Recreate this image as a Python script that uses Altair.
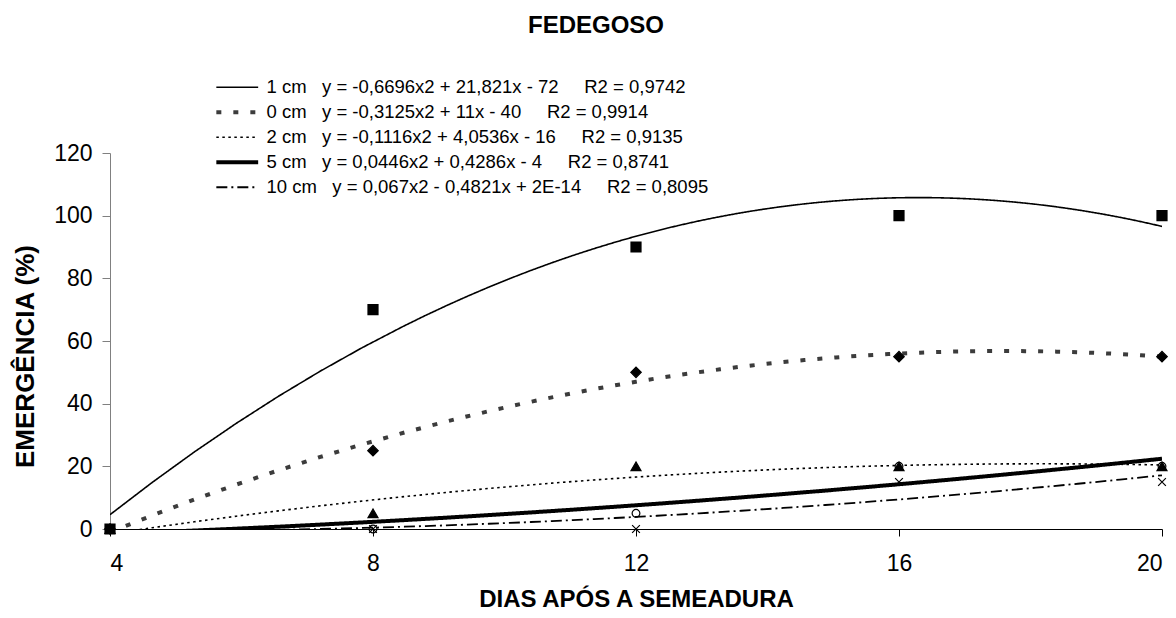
import altair as alt
import pandas as pd

# ---- data ----
dias = [4, 8, 12, 16, 20]
series = ["1 cm", "0 cm", "2 cm", "5 cm", "10 cm"]
emerg_1cm = [0, 70, 90, 100, 100]
emerg_0cm = [0, 25, 50, 55, 55]
emerg_2cm = [0, 5, 20, 20, 20]
emerg_5cm = [0, 0, 5, 20, 20]
emerg_10cm = [0, 0, 0, 15, 15]
equations = [
    "y = -0,6696x2 + 21,821x - 72",
    "y = -0,3125x2 + 11x - 40",
    "y = -0,1116x2 + 4,0536x - 16",
    "y = 0,0446x2 + 0,4286x - 4",
    "y = 0,067x2 - 0,4821x + 2E-14",
]
r2 = ["R2 = 0,9742", "R2 = 0,9914", "R2 = 0,9135", "R2 = 0,8741", "R2 = 0,8095"]

NB = "\u00a0"
labels = [f"{s}{NB*3}{e}{NB*5}{r}" for s, e, r in zip(series, equations, r2)]
values = [emerg_1cm, emerg_0cm, emerg_2cm, emerg_5cm, emerg_10cm]

rows = []
for lab, s, vals in zip(labels, series, values):
    for d, v in zip(dias, vals):
        rows.append({"dias": d, "emerg": v, "serie": lab, "marcador": s})
df = pd.DataFrame(rows)

# ---- styles ----
line_colors = ["#000000", "#3c3c3c", "#000000", "#000000", "#000000"]
line_dash = [[1, 0], [5, 12], [2.5, 3.5], [1, 0], [11, 4, 2, 4]]
line_width = [1.6, 4, 1.6, 4, 1.8]
shapes = ["square", "diamond", "triangle-up", "circle", "M-1,-1L1,1M-1,1L1,-1"]
fills = ["#000000", "#000000", "#000000", "transparent", "transparent"]
sizes = [100, 110, 100, 60, 60]

FONT = "Liberation Sans"

xscale = alt.Scale(domain=[4, 20], nice=False, zero=False)
yscale = alt.Scale(domain=[0, 120], nice=False)

xaxis = alt.Axis(
    values=dias, format="d", title="DIAS APÓS A SEMEADURA", grid=False,
    domainColor="#000000", tickColor="#000000", tickSize=7,
    labelFontSize=23, labelPadding=16, labelColor="#000000",
    titleFontSize=24, titleFontWeight="bold", titlePadding=12, titleColor="#000000",
)
yaxis = alt.Axis(
    values=[0, 20, 40, 60, 80, 100, 120], format="d", title="EMERGÊNCIA (%)", grid=False,
    domainColor="#808080", tickColor="#808080", tickSize=8,
    labelFontSize=23, labelPadding=10, labelColor="#000000",
    titleFontSize=26, titleFontWeight="bold", titleColor="#000000",
    titleX=-85, titleY=203, titleBaseline="middle",
)

leg = alt.Legend(
    orient="none", legendX=118, legendY=-75, title=None,
    symbolType="M-5,0H5", symbolSize=70, labelOffset=20,
    labelFontSize=18.5, labelColor="#000000", rowPadding=6, padding=0,
    labelLimit=800,
)

lines = (
    alt.Chart(df)
    .transform_regression("dias", "emerg", groupby=["serie"], method="poly", order=2, extent=[4, 20])
    .mark_line(clip=True)
    .encode(
        x=alt.X("dias:Q", scale=xscale, axis=xaxis),
        y=alt.Y("emerg:Q", scale=yscale, axis=yaxis),
        stroke=alt.Stroke("serie:N", scale=alt.Scale(domain=labels, range=line_colors), legend=leg),
        strokeDash=alt.StrokeDash("serie:N", scale=alt.Scale(domain=labels, range=line_dash), legend=leg),
        strokeWidth=alt.StrokeWidth("serie:N", scale=alt.Scale(type="ordinal", domain=labels, range=line_width), legend=leg),
    )
)

points = (
    alt.Chart(df)
    .mark_point(opacity=1, strokeWidth=1.2, stroke="#000000")
    .encode(
        x=alt.X("dias:Q", scale=xscale),
        y=alt.Y("emerg:Q", scale=yscale),
        shape=alt.Shape("marcador:N", scale=alt.Scale(domain=series, range=shapes), legend=None),
        fill=alt.Fill("marcador:N", scale=alt.Scale(domain=series, range=fills), legend=None),
        size=alt.Size("marcador:N", scale=alt.Scale(type="ordinal", domain=series, range=sizes), legend=None),
    )
)

chart = (
    alt.layer(lines, points)
    .properties(
        width=1052, height=376,
        padding={"left": 102, "top": 145, "right": 6, "bottom": 81},
        autosize=alt.AutoSizeParams(type="none"),
        title=alt.TitleParams("FEDEGOSO", fontSize=24, fontWeight="bold", font=FONT,
                              anchor="middle", dx=-40, offset=40, color="#000000"),
    )
    .configure(font=FONT)
    .configure_view(stroke=None)
)

chart.save("out.html", embed_options={"renderer": "svg", "actions": False})
